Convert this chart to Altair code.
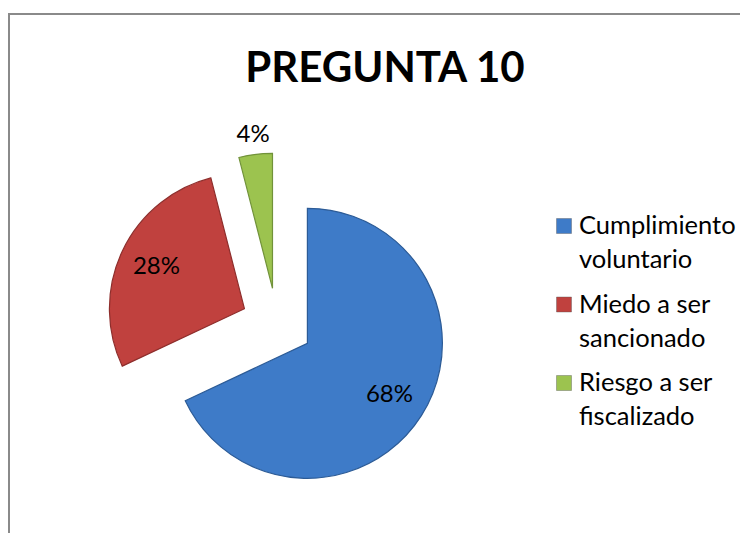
import altair as alt
import pandas as pd

# ---- data ----
categories = ["Cumplimiento voluntario", "Miedo a ser sancionado", "Riesgo a ser fiscalizado"]
values = [68, 28, 4]
order = [0, 1, 2]
colors = ["#3E7BC8", "#C0413E", "#9CC34F"]
edge_colors = ["#2C5B96", "#8E2E2C", "#71923A"]
title_text = "PREGUNTA 10"

# ---- layout constants (pixels, chart coordinates) ----
W, H = 732, 525
CX, CY, R, EXPLODE = 269, 316, 135, 36
FONT = "Lato"
LEG_TOP, LEG_BOTTOM = 218, 375
LEG_SYM_X, LEG_TEXT_X, LEG_LINE = 556, 571, 34

df = pd.DataFrame({"category": categories, "value": values, "order": order})

color_scale = alt.Scale(domain=categories, range=colors)

base = (
    alt.Chart(df)
    .transform_window(cum="sum(value)", sort=[alt.SortField("order")], frame=[None, 0])
    .transform_joinaggregate(total="sum(value)")
    .transform_calculate(
        mid="(datum.cum - datum.value / 2) / datum.total * 2 * PI",
        frac="datum.value / datum.total",
    )
    .transform_calculate(
        px=f"{CX} + {EXPLODE} * sin(datum.mid)",
        py=f"{CY} - {EXPLODE} * cos(datum.mid)",
        lr=f"datum.frac < 0.1 ? {R + 19} : {R * 0.72}",
        label="format(datum.frac, '.0%')",
    )
    .transform_calculate(
        lx="datum.px + datum.lr * sin(datum.mid)",
        ly="datum.py - datum.lr * cos(datum.mid)",
    )
)

arcs = base.mark_arc(outerRadius=R, strokeWidth=1.2).encode(
    theta=alt.Theta("value:Q", stack=True),
    order=alt.Order("order:Q"),
    x=alt.X("px:Q", scale=None),
    y=alt.Y("py:Q", scale=None),
    color=alt.Color("category:N", scale=color_scale, legend=None),
    stroke=alt.Stroke(
        "category:N",
        scale=alt.Scale(domain=categories, range=edge_colors),
        legend=None,
    ),
)

labels = base.mark_text(font=FONT, fontSize=24, color="#000000").encode(
    x=alt.X("lx:Q", scale=None),
    y=alt.Y("ly:Q", scale=None),
    text="label:N",
)

# ---- legend (drawn from the same categories and colour scale) ----
leg_y = alt.Y(
    "category:N",
    sort=categories,
    scale=alt.Scale(type="point", domain=categories, range=[LEG_TOP, LEG_BOTTOM], padding=0),
    axis=None,
)
leg_base = alt.Chart(df).transform_calculate(
    line1="substring(datum.category, 0, lastindexof(datum.category, ' '))",
    line2="substring(datum.category, lastindexof(datum.category, ' ') + 1)",
)
leg_sym = leg_base.mark_square(size=225, opacity=1, stroke="#555555", strokeWidth=0.4).encode(
    x=alt.value(LEG_SYM_X),
    y=leg_y,
    color=alt.Color("category:N", scale=color_scale, legend=None),
)
leg_l1 = leg_base.mark_text(
    font=FONT, fontSize=25.5, color="#000000", align="left", baseline="middle"
).encode(x=alt.value(LEG_TEXT_X), y=leg_y, text="line1:N")
leg_l2 = leg_base.mark_text(
    font=FONT, fontSize=25.5, color="#000000", align="left", baseline="middle", dy=LEG_LINE
).encode(x=alt.value(LEG_TEXT_X), y=leg_y, text="line2:N")

title = (
    alt.Chart(pd.DataFrame({"t": [title_text]}))
    .mark_text(font=FONT, fontSize=42, fontWeight="bold", color="#000000", baseline="alphabetic")
    .encode(x=alt.value(377), y=alt.value(74), text="t:N")
)

frame_top = (
    alt.Chart(pd.DataFrame({"k": [0]}))
    .mark_rule(color="#8A8A8A", strokeWidth=2)
    .encode(x=alt.value(0), x2=alt.value(W), y=alt.value(6))
)
frame_left = (
    alt.Chart(pd.DataFrame({"k": [0]}))
    .mark_rule(color="#8A8A8A", strokeWidth=2)
    .encode(x=alt.value(1), y=alt.value(5), y2=alt.value(H))
)

chart = (
    alt.layer(frame_top, frame_left, arcs, labels, leg_sym, leg_l1, leg_l2, title)
    .properties(width=W, height=H, autosize="none", padding=0)
    .configure_view(stroke=None)
)

chart.save("out.html", embed_options={"renderer": "svg", "actions": False})
